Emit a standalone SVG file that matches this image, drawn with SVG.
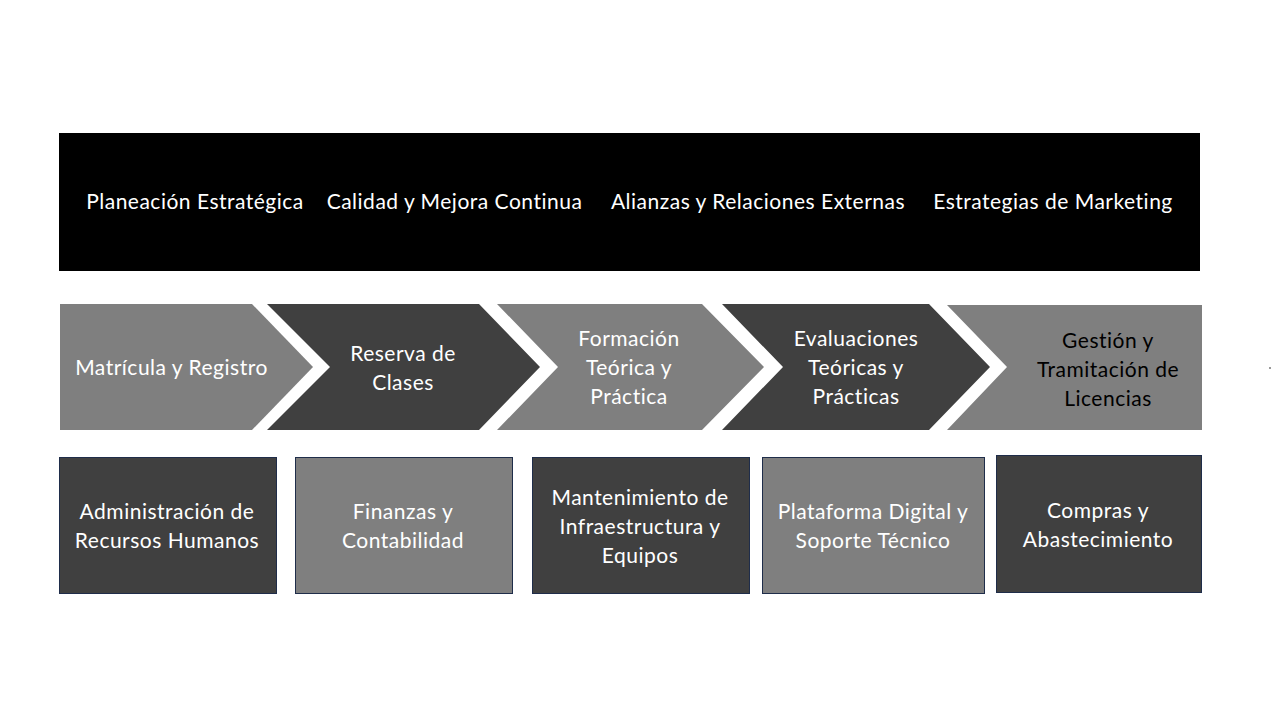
<svg xmlns="http://www.w3.org/2000/svg" width="1280" height="720" viewBox="0 0 1280 720">
<style>
.t{font-family:Lato,"Liberation Sans",Arial,sans-serif;font-size:21px;letter-spacing:0.5px;font-variant-ligatures:none;fill:#ffffff;text-anchor:middle}
.dk{fill:#000000}
.light{fill:#7f7f7f}
.dark{fill:#404040}
.box{stroke:#1f2d4a;stroke-width:1}
</style>
<rect width="1280" height="720" fill="#ffffff"/>
<g id="top-band">
<rect x="59" y="133" width="1141" height="138" fill="#000000"/>
<text class="t" x="195" y="209">Planeación Estratégica</text>
<text class="t" x="454.5" y="209">Calidad y Mejora Continua</text>
<text class="t" x="758" y="209">Alianzas y Relaciones Externas</text>
<text class="t" x="1053" y="209">Estrategias de Marketing</text>
</g>
<g id="chev1">
<polygon class="light" points="60,304 252,304 313,367 252,430 60,430"/>
<text class="t" x="171.5" y="375">Matrícula y Registro</text>
</g>
<g id="chev2">
<polygon class="dark" points="267,304 479,304 540,367 479,430 267,430 330,367"/>
<text class="t" x="403" y="361">Reserva de</text>
<text class="t" x="403" y="390">Clases</text>
</g>
<g id="chev3">
<polygon class="light" points="497,304 702,304 764,367 702,430 497,430 558,367"/>
<text class="t" x="629" y="346">Formación</text>
<text class="t" x="629" y="375">Teórica y</text>
<text class="t" x="629" y="404">Práctica</text>
</g>
<g id="chev4">
<polygon class="dark" points="722,304 929,304 990,367 929,430 722,430 783,367"/>
<text class="t" x="856" y="346">Evaluaciones</text>
<text class="t" x="856" y="375">Teóricas y</text>
<text class="t" x="856" y="404">Prácticas</text>
</g>
<g id="chev5">
<polygon class="light" points="947,305 1202,305 1202,430 947,430 1007,367"/>
<text class="t dk" x="1108" y="348">Gestión y</text>
<text class="t dk" x="1108" y="377">Tramitación de</text>
<text class="t dk" x="1108" y="406">Licencias</text>
</g>
<g id="box1">
<rect class="dark box" x="59.5" y="457.5" width="217" height="136"/>
<text class="t" x="167" y="519">Administración de</text>
<text class="t" x="167" y="548">Recursos Humanos</text>
</g>
<g id="box2">
<rect class="light box" x="295.5" y="457.5" width="217" height="136"/>
<text class="t" x="403" y="519">Finanzas y</text>
<text class="t" x="403" y="548">Contabilidad</text>
</g>
<g id="box3">
<rect class="dark box" x="532.5" y="457.5" width="217" height="136"/>
<text class="t" x="640" y="505">Mantenimiento de</text>
<text class="t" x="640" y="534">Infraestructura y</text>
<text class="t" x="640" y="563">Equipos</text>
</g>
<g id="box4">
<rect class="light box" x="762.5" y="457.5" width="222" height="136"/>
<text class="t" x="873" y="519">Plataforma Digital y</text>
<text class="t" x="873" y="548">Soporte Técnico</text>
</g>
<g id="box5">
<rect class="dark box" x="996.5" y="455.5" width="205" height="137"/>
<text class="t" x="1098" y="518">Compras y</text>
<text class="t" x="1098" y="547">Abastecimiento</text>
</g>
<g id="connectors"></g>
<rect x="1269" y="367" width="2" height="2" fill="#9a9a9a"/>
</svg>
